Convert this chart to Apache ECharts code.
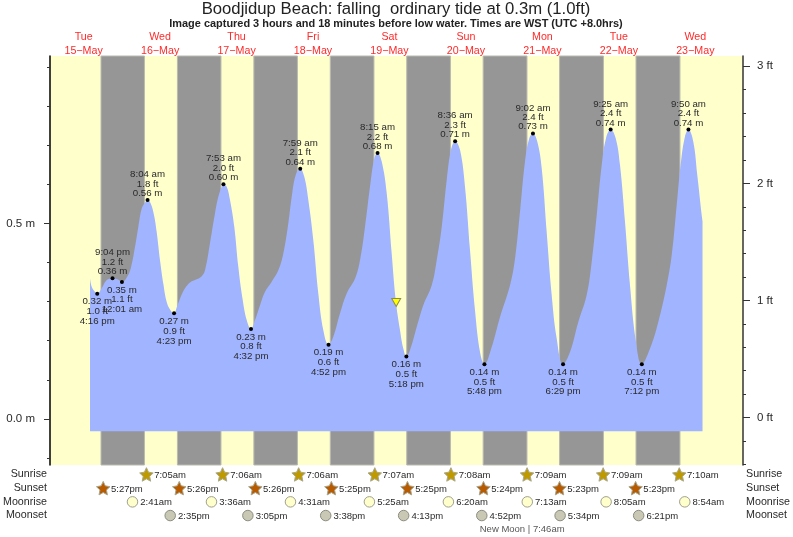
<!DOCTYPE html>
<html>
<head>
<meta charset="utf-8">
<style>html,body{margin:0;padding:0;background:#fff}#c{width:793px;height:537px}</style>
<script src="https://cdn.jsdelivr.net/npm/echarts@6/dist/echarts.min.js"></script>
</head>
<body>
<div id="c"></div>
<script>
// hours counted from 00:00 on 15 May
const tideHours = [14.0,14.53,15.35,16.27,17.67,19.24,21.07,22.69,24.02,25.52,26.77,28.12,29.16,30.23,31.26,32.07,33.05,34.09,34.93,35.97,37.01,38.07,39.11,40.38,41.21,42.25,43.82,45.39,47.49,49.06,50.09,51.66,53.23,54.27,55.34,55.88,56.9,57.94,59.29,60.55,61.93,63.18,64.53,65.79,67.36,68.93,71.03,73.1,74.67,76.24,77.31,78.56,79.98,81.26,82.52,84.09,85.66,87.23,88.87,90.36,92.47,94.57,97.18,98.74,100.31,101.88,103.23,104.25,105.56,107.13,108.69,109.95,111.3,112.34,113.3,114.75,116.54,118.61,121.25,122.82,124.39,125.96,127.31,128.6,130.13,131.7,133.27,134.84,136.41,137.8,140.08,142.69,145.83,147.4,148.96,150.53,151.88,153.03,154.4,155.78,157.34,158.91,160.48,162.48,164.66,167.26,169.9,171.47,173.04,174.61,175.96,177.42,179,180.35,181.92,183.49,185.37,187.2,189.77,192.37,195.01,196.58,198.15,199.5,200.75,201.83,203.36,204.61,206,206.25];
const tideMetres = [0.359,0.338,0.327,0.32,0.334,0.355,0.36,0.357,0.35,0.362,0.385,0.44,0.491,0.538,0.553,0.56,0.551,0.521,0.478,0.406,0.346,0.299,0.28,0.27,0.285,0.308,0.334,0.349,0.357,0.365,0.38,0.45,0.526,0.568,0.594,0.6,0.594,0.56,0.491,0.389,0.304,0.253,0.23,0.253,0.291,0.325,0.351,0.38,0.423,0.5,0.568,0.624,0.64,0.619,0.56,0.457,0.321,0.227,0.19,0.21,0.27,0.321,0.359,0.406,0.491,0.594,0.666,0.68,0.658,0.577,0.423,0.304,0.227,0.18,0.16,0.184,0.235,0.291,0.342,0.406,0.491,0.611,0.688,0.71,0.688,0.594,0.432,0.278,0.171,0.14,0.184,0.261,0.342,0.41,0.53,0.658,0.718,0.73,0.709,0.641,0.478,0.317,0.206,0.14,0.171,0.248,0.317,0.402,0.521,0.649,0.718,0.74,0.718,0.649,0.504,0.342,0.197,0.14,0.18,0.248,0.342,0.419,0.547,0.658,0.722,0.74,0.709,0.624,0.521,0.506];

const highDays = [0,1,2,3,4,5,6,7,8];
const highTimes = ["9:04 pm","8:04 am","7:53 am","7:59 am","8:15 am","8:36 am","9:02 am","9:25 am","9:50 am"];
const highFeet = ["1.2","1.8","2.0","2.1","2.2","2.3","2.4","2.4","2.4"];
const highMetres = ["0.36","0.56","0.60","0.64","0.68","0.71","0.73","0.74","0.74"];

const lowDays = [0,1,1,2,3,4,5,6,7];
const lowTimes = ["4:16 pm","12:01 am","4:23 pm","4:32 pm","4:52 pm","5:18 pm","5:48 pm","6:29 pm","7:12 pm"];
const lowFeet = ["1.0","1.1","0.9","0.8","0.6","0.5","0.5","0.5","0.5"];
const lowMetres = ["0.32","0.35","0.27","0.23","0.19","0.16","0.14","0.14","0.14"];

const dayNames = ["Tue","Wed","Thu","Fri","Sat","Sun","Mon","Tue","Wed"];
const dayDates = ["15\u2212May","16\u2212May","17\u2212May","18\u2212May","19\u2212May","20\u2212May","21\u2212May","22\u2212May","23\u2212May"];

const sunriseTimes = ["7:05am","7:06am","7:06am","7:07am","7:08am","7:09am","7:09am","7:10am"];   // from 16 May
const sunsetTimes = ["5:27pm","5:26pm","5:26pm","5:25pm","5:25pm","5:24pm","5:23pm","5:23pm"];    // from 15 May
const moonriseTimes = ["2:41am","3:36am","4:31am","5:25am","6:20am","7:13am","8:05am","8:54am"];  // from 16 May
const moonsetTimes = ["2:35pm","3:05pm","3:38pm","4:13pm","4:52pm","5:34pm","6:21pm"];            // from 16 May

const nowHour = 110.1;
const nowMetres = 0.298;
const newMoonHour = 149.6;
const newMoonText = "New Moon | 7:46am";
const rows = ["Sunrise","Sunset","Moonrise","Moonset"," "];

const metreMajor = [0,0.5];
const metreMinor = [-0.1,0.1,0.2,0.3,0.4,0.6,0.7,0.8,0.9];
const feetMajor = [0,1,2,3];
const feetMinor = [-0.4,-0.2,0.2,0.4,0.6,0.8,1.2,1.4,1.6,1.8,2.2,2.4,2.6,2.8];

function toHour(day, s){
  const m = s.match(/(\d+):(\d+)\s*(am|pm)/);
  let h = (+m[1]) % 12 + (+m[2])/60;
  if (m[3] === 'pm') h += 12;
  return day*24 + h;
}

const FONT = '"Liberation Sans", Arial, sans-serif';
const TXT = '#2a2a2a';
const STAR = 'path://M50 0 L65 32 L100 38 L74 62 L81 97 L50 80 L19 97 L26 62 L0 38 L35 32 Z';
const XMIN = 1.44, XMAX = 218.96;

const nights = sunsetTimes.map((s,i)=>[toHour(i,s), toHour(i+1,sunriseTimes[i])]);

function rowSeries(row, times, startDay, symbol, size, fill, border, dist){
  return {
    type:'scatter', xAxisIndex:1, yAxisIndex:4, clip:false, symbol:symbol, symbolSize:size,
    itemStyle:{color:fill,borderColor:border,borderWidth:1,opacity:1},
    label:{show:true,position:'right',distance:dist,offset:[0,1],fontSize:9.5,color:TXT,
      formatter:p=>p.data[2]},
    data:times.map((t,i)=>[toHour(i+startDay,t),row,t]),
    z:5
  };
}

const option = {
  animation:false,
  backgroundColor:'#ffffff',
  textStyle:{fontFamily:FONT},
  title:[
    {text:'Boodjidup Beach: falling  ordinary tide at 0.3m (1.0ft)',left:396,top:1,padding:0,textAlign:'center',
      textStyle:{fontSize:16.7,fontWeight:'normal',color:'#222',fontFamily:FONT}},
    {text:'Image captured 3 hours and 18 minutes before low water. Times are WST (UTC +8.0hrs)',left:396,top:18.5,padding:0,textAlign:'center',
      textStyle:{fontSize:10.95,fontWeight:'bold',color:'#222',fontFamily:FONT}}
  ],
  grid:[
    {left:50,right:50,top:56,height:409,show:true,backgroundColor:'#FFFFCC',borderWidth:0},
    {left:50,right:50,top:467.6,height:68.5}
  ],
  xAxis:[
    {gridIndex:0,type:'value',position:'top',min:XMIN,max:XMAX,
      axisLine:{show:false},axisTick:{show:false},splitLine:{show:false},
      axisLabel:{show:true,customValues:dayNames.map((d,i)=>i*24+12),margin:-1.3,fontSize:10.7,lineHeight:13.4,color:'#FF2A2A',
        formatter:v=>{const i=Math.round((v-12)/24);return dayNames[i]+'\n'+dayDates[i];}}},
    {gridIndex:1,type:'value',min:XMIN,max:XMAX,show:false}
  ],
  yAxis:[
    {gridIndex:0,type:'value',position:'left',min:-0.1177,max:0.928,splitLine:{show:false},
      axisLine:{show:true,lineStyle:{color:'#000',width:1.5}},
      axisTick:{show:true,length:6,customValues:metreMajor,lineStyle:{color:'#333',width:1}},
      axisLabel:{show:true,customValues:metreMajor,margin:15,fontSize:11.5,color:TXT,formatter:v=>v.toFixed(1)+' m'}},
    {gridIndex:0,type:'value',position:'left',min:-0.1177,max:0.928,splitLine:{show:false},
      axisLine:{show:false},axisLabel:{show:false},
      axisTick:{show:true,length:3,customValues:metreMinor,lineStyle:{color:'#333',width:1}}},
    {gridIndex:0,type:'value',position:'right',min:-0.405,max:3.088,splitLine:{show:false},
      axisLine:{show:true,lineStyle:{color:'#333',width:1.5}},
      axisTick:{show:true,length:7,customValues:feetMajor,lineStyle:{color:'#333',width:1}},
      axisLabel:{show:true,customValues:feetMajor,margin:14,fontSize:11.5,color:TXT,formatter:v=>v+' ft'}},
    {gridIndex:0,type:'value',position:'right',min:-0.405,max:3.088,splitLine:{show:false},
      axisLine:{show:false},axisLabel:{show:false},
      axisTick:{show:true,length:3,customValues:feetMinor,lineStyle:{color:'#333',width:1}}},
    {gridIndex:1,type:'category',position:'left',inverse:true,data:rows,
      axisLine:{show:false},axisTick:{show:false},splitLine:{show:false},
      axisLabel:{interval:0,margin:5.5,fontSize:10.7,color:TXT,padding:[3,0,0,0]}},
    {gridIndex:1,type:'category',position:'right',inverse:true,data:rows,
      axisLine:{show:false},axisTick:{show:false},splitLine:{show:false},
      axisLabel:{interval:0,margin:4,fontSize:10.7,color:TXT,padding:[3,0,0,0]}}
  ],
  series:[
    {type:'custom',xAxisIndex:0,yAxisIndex:0,z:1,data:nights,
      renderItem:(params,api)=>{
        const a=api.coord([api.value(0),0]), b=api.coord([api.value(1),0]), cs=params.coordSys;
        return {type:'rect',shape:{x:a[0],y:cs.y,width:b[0]-a[0],height:cs.height},
          style:{fill:'#969696',stroke:'#b9b9b0',lineWidth:1}};
      }},
    {type:'line',xAxisIndex:0,yAxisIndex:0,z:2,showSymbol:false,smooth:0.4,
      lineStyle:{width:0},
      areaStyle:{color:'#A0B4FF',opacity:1,origin:-0.0315},
      data:tideHours.map((h,i)=>[h,tideMetres[i]])},
    {type:'scatter',xAxisIndex:0,yAxisIndex:0,z:4,symbol:'circle',symbolSize:4,itemStyle:{color:'#000',opacity:1},
      label:{show:true,position:'top',distance:0,fontSize:9.7,lineHeight:9.4,color:TXT,formatter:p=>p.data[2]},
      data:highTimes.map((t,i)=>[toHour(highDays[i],t),+highMetres[i],t+'\n'+highFeet[i]+' ft\n'+highMetres[i]+' m'])},
    {type:'scatter',xAxisIndex:0,yAxisIndex:0,z:4,symbol:'circle',symbolSize:4,itemStyle:{color:'#000',opacity:1},
      label:{show:true,position:'bottom',distance:1,fontSize:9.7,lineHeight:9.8,color:TXT,formatter:p=>p.data[2]},
      data:lowTimes.map((t,i)=>[toHour(lowDays[i],t),+lowMetres[i],lowMetres[i]+' m\n'+lowFeet[i]+' ft\n'+t])},
    {type:'scatter',xAxisIndex:0,yAxisIndex:0,z:6,symbol:'triangle',symbolRotate:180,symbolSize:[9,8],
      itemStyle:{color:'#FFFF00',borderColor:'#8c8c50',borderWidth:1,opacity:1},
      data:[[nowHour,nowMetres]]},
    rowSeries('Sunrise',sunriseTimes,1,STAR,13.5,'#BE9A00','#a8a890',0.5),
    rowSeries('Sunset',sunsetTimes,0,STAR,13.5,'#B85A00','#a8a890',0.5),
    rowSeries('Moonrise',moonriseTimes,1,'circle',10.5,'#FFFFCC','#a0a090',2),
    rowSeries('Moonset',moonsetTimes,1,'circle',10.5,'#C8C8B4','#8c8c80',2),
    {type:'scatter',xAxisIndex:1,yAxisIndex:4,clip:false,symbol:'circle',symbolSize:0.01,
      label:{show:true,position:'inside',fontSize:9.5,color:TXT,formatter:p=>p.data[2]},
      data:[[newMoonHour,' ',newMoonText]]}
  ]
};
const chart = echarts.init(document.getElementById('c'),null,{renderer:'canvas'});
chart.setOption(option);
</script>
</body>
</html>
